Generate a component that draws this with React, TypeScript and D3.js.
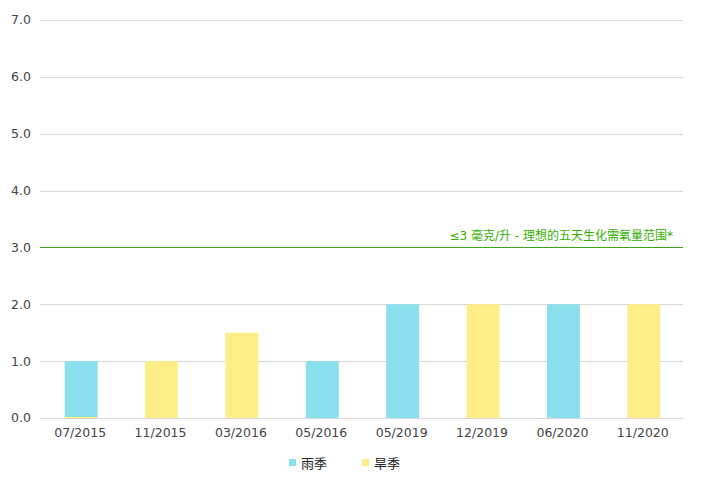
import * as d3 from 'd3';
import React, { useRef, useEffect } from 'react';

const categories = ['07/2015', '11/2015', '03/2016', '05/2016', '05/2019', '12/2019', '06/2020', '11/2020'];
const rainy = [1.0, null, null, 1.0, 2.0, null, 2.0, null];
const dry = [0.02, 1.0, 1.5, null, null, 2.0, null, 2.0];
const yTicks = [0, 1, 2, 3, 4, 5, 6, 7];
const seriesNames = ['雨季', '旱季'];
const threshold = 3;
const thresholdLabel = '≤3 毫克/升 - 理想的五天生化需氧量范围*';

const App = () => {
    const svgRef = useRef<SVGSVGElement>(null);

    useEffect(() => {
        const width = 702;
        const height = 498;
        const margin = { top: 20, right: 19, bottom: 80, left: 40 };
        const font = '"DejaVu Sans", "Noto Sans CJK SC", sans-serif';
        const colors = ['#8ae0ec', '#feee88'];

        const svg = d3.select(svgRef.current);
        svg.selectAll('*').remove();

        const x = d3.scaleBand()
            .domain(categories)
            .range([margin.left, width - margin.right])
            .paddingInner(0.59)
            .paddingOuter(0.295);

        const y = d3.scaleLinear()
            .domain([0, 7])
            .range([height - margin.bottom, margin.top]);

        // grid lines
        svg.append('g')
            .selectAll('line')
            .data(yTicks)
            .join('line')
            .attr('x1', margin.left)
            .attr('x2', width - margin.right)
            .attr('y1', (d) => Math.round(y(d)) + 0.5)
            .attr('y2', (d) => Math.round(y(d)) + 0.5)
            .attr('stroke', '#d9d9d9')
            .attr('stroke-width', 1);

        // y tick labels
        svg.append('g')
            .selectAll('text')
            .data(yTicks)
            .join('text')
            .attr('x', 31)
            .attr('y', (d) => y(d))
            .attr('dy', '0.35em')
            .attr('text-anchor', 'end')
            .attr('font-family', font)
            .attr('font-size', 12.5)
            .attr('fill', '#444')
            .text((d) => d.toFixed(1));

        // x tick labels
        svg.append('g')
            .selectAll('text')
            .data(categories)
            .join('text')
            .attr('x', (d) => (x(d) as number) + x.bandwidth() / 2)
            .attr('y', 437)
            .attr('text-anchor', 'middle')
            .attr('font-family', font)
            .attr('font-size', 12.5)
            .attr('fill', '#444')
            .text((d) => d);

        // bars, series overlap on the same slot
        [rainy, dry].forEach((values, si) => {
            svg.append('g')
                .attr('transform', 'translate(1,0)')
                .selectAll('rect')
                .data(values.map((v, i) => ({ v, c: categories[i] })).filter((d) => d.v != null))
                .join('rect')
                .attr('x', (d: any) => x(d.c) as number)
                .attr('width', x.bandwidth())
                .attr('y', (d: any) => y(d.v))
                .attr('height', (d: any) => y(0) - y(d.v))
                .attr('fill', colors[si]);
        });

        // threshold line
        svg.append('line')
            .attr('x1', margin.left)
            .attr('x2', width - margin.right)
            .attr('y1', Math.round(y(threshold)) + 0.5)
            .attr('y2', Math.round(y(threshold)) + 0.5)
            .attr('stroke', '#3aa516')
            .attr('stroke-width', 1);

        svg.append('text')
            .attr('x', 673)
            .attr('y', y(threshold) - 7)
            .attr('text-anchor', 'end')
            .attr('font-family', font)
            .attr('font-size', 12)
            .attr('fill', '#33b000')
            .text(thresholdLabel);

        // legend
        const legendX = [289, 362];
        const legend = svg.append('g')
            .selectAll('g')
            .data(seriesNames)
            .join('g')
            .attr('transform', (d, i) => `translate(${legendX[i]}, 463)`);
        legend.append('rect')
            .attr('x', 0)
            .attr('y', -4)
            .attr('width', 7)
            .attr('height', 7)
            .attr('fill', (d, i) => colors[i]);
        legend.append('text')
            .attr('x', 12)
            .attr('y', 0)
            .attr('dy', '0.35em')
            .attr('font-family', font)
            .attr('font-size', 13)
            .attr('fill', '#222')
            .text((d) => d);
    }, []);

    return (
        <svg ref={svgRef} width={702} height={498} style={{ position: 'absolute', left: 0, top: 0 }} />
    );
};

export default App;
